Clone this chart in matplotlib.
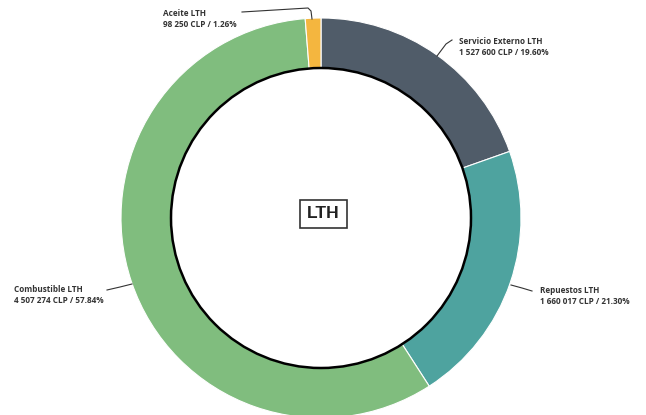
import matplotlib.pyplot as plt
from matplotlib.patches import Circle

categories = ["Servicio Externo LTH", "Repuestos LTH", "Combustible LTH", "Aceite LTH"]
amounts = ["1 527 600", "1 660 017", "4 507 274", "98 250"]
percents = [19.60, 21.30, 57.84, 1.26]
colors = ["#505c69", "#4ea39f", "#80bd7e", "#f4b63f"]

W, H = 646, 415
cx, cy = 321, H - 218
R = 200

fig = plt.figure(figsize=(W / 100, H / 100), dpi=100)
ax = fig.add_axes([0, 0, 1, 1])

ax.pie(percents, colors=colors, startangle=90, counterclock=False,
       center=(cx, cy), radius=R,
       wedgeprops=dict(width=50, edgecolor="white", linewidth=0.8))
ax.add_patch(Circle((cx, cy), R - 50, fill=False, edgecolor="black", lw=1.8, zorder=3))

ax.set_xlim(0, W)
ax.set_ylim(0, H)
ax.set_aspect("equal")
ax.axis("off")

# label text anchor (px from top-left) and leader line points
label_pos = {
    "Servicio Externo LTH": (459, 47),
    "Repuestos LTH": (540, 296),
    "Combustible LTH": (14, 295),
    "Aceite LTH": (163, 19),
}
leaders = {
    "Servicio Externo LTH": [(452, 40), (446, 44), (437, 56)],
    "Repuestos LTH": [(532, 291), (522, 288), (511, 285)],
    "Combustible LTH": [(107, 290), (120, 287), (132, 284)],
    "Aceite LTH": [(242, 12), (308, 8), (311, 11), (312, 19)],
}

for name, amt, pct in zip(categories, amounts, percents):
    x, y = label_pos[name]
    ax.text(x, H - y, f"{name}\n{amt} CLP / {pct:.2f}%", fontsize=5.9,
            family="Open Sans", fontweight="bold", color="#333333",
            ha="left", va="center", linespacing=1.4)
    pts = leaders[name]
    ax.plot([p[0] for p in pts], [H - p[1] for p in pts], color="#333333", lw=0.8)

ax.text(323.5, H - 214, "LTH", fontsize=12.5, family="Liberation Sans", fontweight="bold",
        color="#222222", ha="center", va="center",
        bbox=dict(boxstyle="square,pad=0.4", facecolor="white", edgecolor="#333333", lw=1.2))

fig.savefig("out.png", dpi=100)
